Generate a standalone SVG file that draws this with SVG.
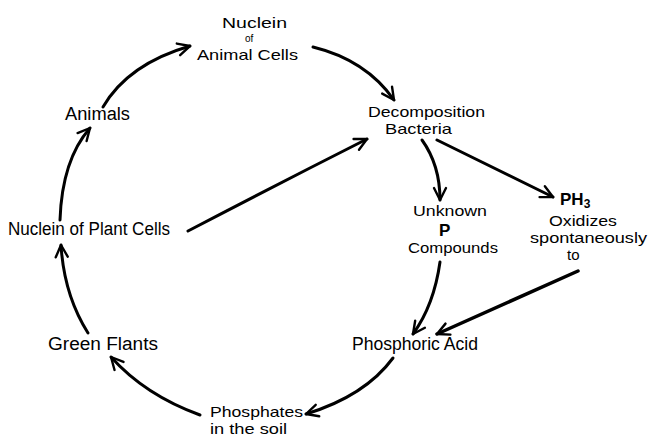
<svg xmlns="http://www.w3.org/2000/svg" width="648" height="437" viewBox="0 0 648 437">
<defs>
<marker id="arr" viewBox="-14 -8 16 16" refX="0" refY="0" markerWidth="16" markerHeight="16" markerUnits="userSpaceOnUse" orient="auto">
<path d="M-12,-6 L0,0 L-12,6" fill="none" stroke="#000" stroke-width="2.4" stroke-linecap="round" stroke-linejoin="round"/>
</marker>
<style>
text{font-family:"Liberation Sans","DejaVu Sans",sans-serif;font-size:18px;fill:#000}
.m{font-size:15px}
.sm{font-size:10px}
.b{font-weight:bold;font-size:17px}
.c{fill:none;stroke:#000;stroke-width:3;stroke-linecap:round;marker-end:url(#arr)}
</style>
</defs>
<rect width="648" height="437" fill="#fff"/>
<g id="n-animal-cells">
<text class="m" x="222" y="28" textLength="65" lengthAdjust="spacingAndGlyphs">Nuclein</text>
<text class="sm" x="245" y="42">of</text>
<text class="m" x="197" y="60" textLength="101" lengthAdjust="spacingAndGlyphs">Animal Cells</text>
</g>
<g id="n-decomposition">
<text class="m" x="368" y="117" textLength="117" lengthAdjust="spacingAndGlyphs">Decomposition</text>
<text class="m" x="385" y="134" textLength="67" lengthAdjust="spacingAndGlyphs">Bacteria</text>
</g>
<g id="n-animals">
<text x="65" y="120" textLength="65" lengthAdjust="spacingAndGlyphs">Animals</text>
</g>
<g id="n-plant-cells">
<text x="8" y="235" textLength="162" lengthAdjust="spacingAndGlyphs">Nuclein of Plant Cells</text>
</g>
<g id="n-unknown">
<text class="m" x="413" y="216" textLength="74" lengthAdjust="spacingAndGlyphs">Unknown</text>
<text class="b" x="439" y="236">P</text>
<text class="m" x="408" y="253" textLength="90" lengthAdjust="spacingAndGlyphs">Compounds</text>
</g>
<g id="n-ph3">
<text class="b" x="560" y="205">PH<tspan font-size="12" dy="3">3</tspan></text>
<text class="m" x="549" y="226" textLength="68" lengthAdjust="spacingAndGlyphs">Oxidizes</text>
<text class="m" x="530" y="243" textLength="117" lengthAdjust="spacingAndGlyphs">spontaneously</text>
<text class="m" x="567" y="260">to</text>
</g>
<g id="n-green-plants">
<text x="48" y="350" textLength="110" lengthAdjust="spacingAndGlyphs">Green Flants</text>
</g>
<g id="n-phosphoric">
<text x="352" y="350" textLength="126" lengthAdjust="spacingAndGlyphs">Phosphoric Acid</text>
</g>
<g id="n-phosphates">
<text class="m" x="210" y="417" textLength="93" lengthAdjust="spacingAndGlyphs">Phosphates</text>
<text class="m" x="210" y="434" textLength="77" lengthAdjust="spacingAndGlyphs">in the soil</text>
</g>
<g id="connectors">
<path class="c" d="M103,107 Q128,64 190,46"/>
<path class="c" d="M313,47 Q366,60 394,100"/>
<path class="c" d="M188,231 Q280,183 367,139"/>
<path class="c" d="M422,140 Q440,165 440,200"/>
<path class="c" d="M437,140 L553,197"/>
<path class="c" d="M440,262 Q434,305 413,334"/>
<path class="c" d="M578,271 L437,334" style="stroke-width:3.5"/>
<path class="c" d="M393,358 Q365,396 306,414"/>
<path class="c" d="M200,415 Q145,395 111,357"/>
<path class="c" d="M88,333 Q64,295 61,245"/>
<path class="c" d="M60,220 Q62,160 90,128"/>
</g>
</svg>
